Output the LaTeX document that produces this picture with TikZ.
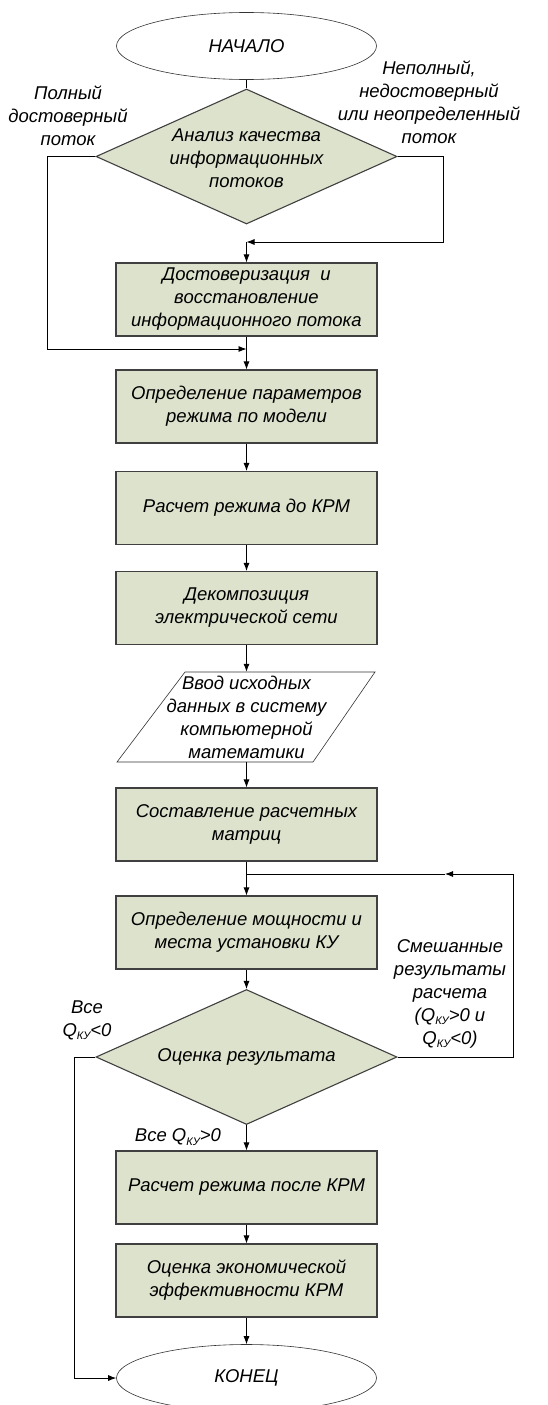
\documentclass[tikz,border=0pt]{standalone}
\usepackage{fontspec}
\setmainfont{Liberation Sans}
\usetikzlibrary{shapes.geometric,arrows.meta}
\definecolor{boxfill}{HTML}{DDE2CC}
\definecolor{boxline}{HTML}{404040}
\newcommand\qku{Q\raisebox{-0.35ex}{\fontsize{11}{11}\selectfont\itshape КУ}}
\begin{document}
\begin{tikzpicture}[x=1pt,y=-1pt,
  fnt/.style={font=\fontsize{18.5}{23}\selectfont\itshape},
  box/.style={fnt,draw=boxline,fill=boxfill,line width=1.1pt,minimum width=261pt,minimum height=73pt,inner sep=0pt,align=center},
  term/.style={fnt,ellipse,draw=black!80,line width=0.6pt,fill=white,minimum width=260pt,minimum height=67pt,inner sep=0pt},
  dia/.style={diamond,draw=boxline,fill=boxfill,line width=1.1pt,minimum width=301pt,minimum height=135pt,inner sep=0pt},
  txt/.style={fnt,align=center,inner sep=0pt},
  ln/.style={line width=0.8pt},
  arr/.style={ln,-{Latex[length=8pt,width=6pt]}}]
\useasboundingbox (0,0) rectangle (547,1405);
% nodes
\node[term] (start) at (246.5,46) {НАЧАЛО};
\node[dia] (d1) at (246.5,156.5) {};
\node[txt] (d1t) at (246.5,158) {Анализ качества\\информационных\\потоков};
\node[box] (b1) at (246.5,299.5) {Достоверизация\ \ и\\восстановление\\информационного потока};
\node[box] (b2) at (246.5,406.5) {Определение параметров\\режима по модели};
\node[box] (b3) at (246.5,508) {Расчет режима до КРМ};
\node[box] (b4) at (246.5,608) {Декомпозиция\\электрической сети};
\draw[line width=0.6pt,draw=black!80] (185,672) -- (375,672) -- (313,762) -- (117,762) -- cycle;
\node[txt,minimum height=90pt] (p) at (246.5,717) {Ввод исходных\\данных в систему\\компьютерной\\математики};
\node[box] (b5) at (246.5,824.5) {Составление расчетных\\матриц};
\node[box] (b6) at (246.5,932.5) {Определение мощности и\\места установки КУ};
\node[dia] (d2) at (246.5,1057) {};
\node[txt] (d2t) at (246.5,1057) {Оценка результата};
\node[box] (b7) at (246.5,1187.5) {Расчет режима после КРМ};
\node[box] (b8) at (246.5,1280.5) {Оценка экономической\\эффективности КРМ};
\node[term] (end) at (246.5,1378) {КОНЕЦ};
% labels
\node[txt] (l1) at (68,116) {Полный\\достоверный\\поток};
\node[txt] (l2) at (429,102) {Неполный,\\недостоверный\\или неопределенный\\поток};
\node[txt] (l3) at (450,994) {Смешанные\\результаты\\расчета\\(\qku>0 и\\\qku<0)};
\node[txt] (l4) at (87,1020) {Все\\\qku<0};
\node[txt] (l5) at (178,1137) {Все \qku>0};
% coordinates
\coordinate (j1) at (246.5,242);
\coordinate (j2) at (246.5,349);
\coordinate (j3) at (246.5,874);
% connectors
\draw[ln] (start) -- (d1.north);
\draw[arr] (d1.east) -| (443,242) -- (j1);
\draw[arr] (j1) -- (b1.north);
\draw[arr] (b1.south) -- (b2.north);
\draw[arr] (d1.west) -| (47,349) -- (j2);
\draw[arr] (b2.south) -- (b3.north);
\draw[arr] (b3.south) -- (b4.north);
\draw[arr] (b4.south) -- (p.north);
\draw[arr] (p.south) -- (b5.north);
\draw[arr] (b5.south) -- (b6.north);
\draw[arr] (b6.south) -- (d2.north);
\draw[arr] (d2.east) -| (513,874) -- (445,874);
\draw[ln] (445,874) -- (j3);
\draw[arr] (d2.south) -- (b7.north);
\draw[arr] (b7.south) -- (b8.north);
\draw[arr] (b8.south) -- (end.north);
\draw[arr] (d2.west) -| (74,1378) -- (end.west);
\end{tikzpicture}
\end{document}
